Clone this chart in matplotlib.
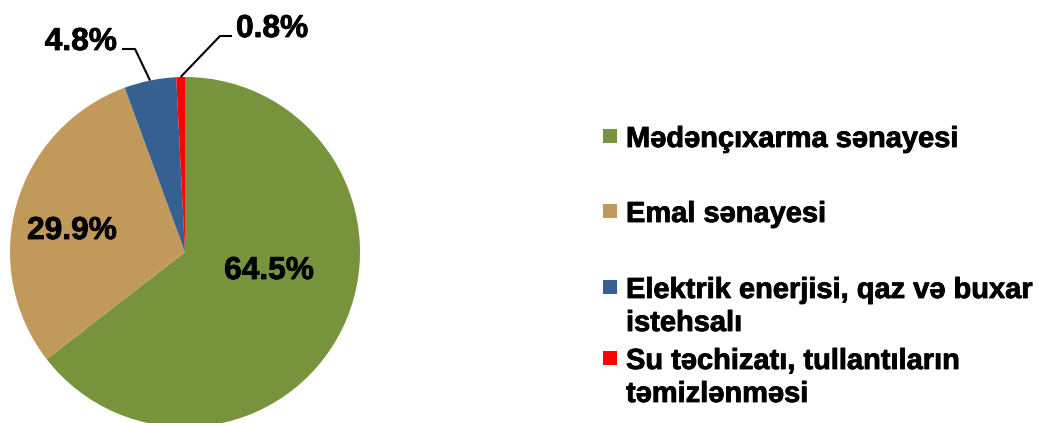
import numpy as np
import matplotlib.pyplot as plt
import matplotlib.patheffects as pe
from matplotlib.patches import Rectangle

plt.rcParams['font.family'] = ['Liberation Sans', 'DejaVu Sans']
plt.rcParams['font.weight'] = 'bold'

# data
categories = ['Mədənçıxarma sənayesi', 'Emal sənayesi',
              'Elektrik enerjisi, qaz və buxar\nistehsalı',
              'Su təchizatı, tullantıların\ntəmizlənməsi']
shares = [64.5, 29.9, 4.8, 0.8]
colors = ['#77933C', '#C19A5B', '#376092', '#FF0000']

W, H = 1039, 423
CX, CY, R = 185, 252, 175   # pie centre / radius in pixels (from top-left)


def px(x, y):
    # pixel (from top-left) -> data coords where pie has radius 1
    return (x - CX) / R, ((H - y) - (H - CY)) / R


fig = plt.figure(figsize=(W / 100, H / 100), dpi=100)
ax = fig.add_axes([0, 0, 1, 1])
wedges, _ = ax.pie(shares, colors=colors, startangle=90, counterclock=False,
                   radius=1, wedgeprops=dict(linewidth=0))
x0, y0 = px(0, H)
x1, y1 = px(W, 0)
ax.set_xlim(x0, x1)
ax.set_ylim(y0, y1)
ax.set_aspect('auto')
ax.axis('off')

# slightly heavier strokes, like the original rendering
bold = [pe.withStroke(linewidth=0.6, foreground='black')]
lab_kw = dict(fontsize=22.8, fontweight='bold', color='black', va='baseline',
              path_effects=bold)

# inside labels
ax.text(*px(269, 279), f'{shares[0]}%', ha='center', **lab_kw)
ax.text(*px(72, 239), f'{shares[1]}%', ha='center', **lab_kw)


def edge_point(w):
    ang = np.deg2rad((w.theta1 + w.theta2) / 2)
    return np.cos(ang), np.sin(ang)


# leader lines for the small slices
sx, sy = edge_point(wedges[2])
ex, ey = px(135, 49)
hx, _ = px(122, 49)
ax.plot([sx, ex, hx], [sy, ey, ey], color='black', lw=1.5, solid_capstyle='butt')
ax.text(*px(117, 50), f'{shares[2]}%', ha='right', **lab_kw)

sx, sy = edge_point(wedges[3])
ex, ey = px(220, 36)
hx, _ = px(232, 36)
ax.plot([sx, ex, hx], [sy, ey, ey], color='black', lw=1.5, solid_capstyle='butt')
ax.text(*px(236, 37), f'{shares[3]}%', ha='left', **lab_kw)

# legend drawn by hand (marker beside the first line of each entry)
leg_base = [147, 222, 298, 369]
for lab, col, yb in zip(categories, colors, leg_base):
    rx, ry = px(603, yb - 4)
    ax.add_patch(Rectangle((rx, ry), 14 / R, 14 / R, facecolor=col,
                           edgecolor='none', clip_on=False))
    for i, line in enumerate(lab.split('\n')):
        ax.text(*px(626, yb + 33 * i), line, fontsize=20.9, fontweight='bold',
                ha='left', va='baseline', path_effects=bold)

fig.savefig('out.png', dpi=100)
